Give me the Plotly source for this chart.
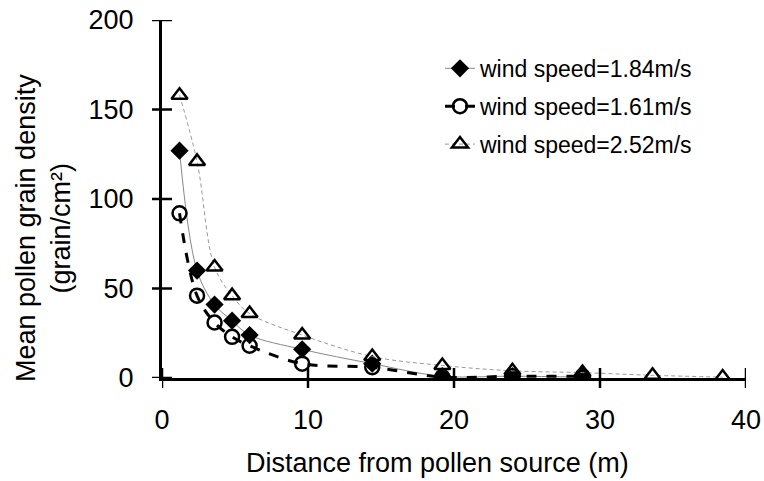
import plotly.graph_objects as go

x_d = [1.2, 2.4, 3.6, 4.8, 6.0, 9.6, 14.4, 19.2, 24.0, 28.8]
y_d = [127, 60, 41, 32, 24, 16, 8, 1, 1, 0.5]
x_c = [1.2, 2.4, 3.6, 4.8, 6.0, 9.6, 14.4, 19.2, 24.0, 28.8]
y_c = [92, 46, 31, 23, 18, 8, 6, 0.5, 1, 1]
x_t = [1.2, 2.4, 3.6, 4.8, 6.0, 9.6, 14.4, 19.2, 24.0, 28.8, 33.6, 38.4]
y_t = [158, 121, 62, 46, 36, 24, 12, 7, 4, 3, 1.5, 0.5]

names = ["wind speed=1.84m/s", "wind speed=1.61m/s", "wind speed=2.52m/s"]
x_ticks = [0, 10, 20, 30, 40]
y_ticks = [0, 50, 100, 150, 200]
x_title = "Distance from pollen source (m)"
y_title = "Mean pollen grain density<br>(grain/cm²)"

font = "Liberation Sans, Arial, sans-serif"

fig = go.Figure()
fig.add_trace(go.Scatter(
    x=x_d, y=y_d, name=names[0], mode="lines+markers", legendgroup="a",
    line=dict(color="#888888", width=1, shape="spline"),
    marker=dict(symbol="diamond", size=14, color="black", line=dict(width=0))))
fig.add_trace(go.Scatter(
    x=x_c, y=y_c, name=names[1], mode="lines+markers", legendgroup="b",
    line=dict(color="black", width=3, dash="10px,10px", shape="spline"),
    marker=dict(symbol="circle-open", size=14, color="black", line=dict(width=2.5))))
fig.add_trace(go.Scatter(
    x=x_t, y=y_t, name=names[2], mode="lines+markers", legendgroup="c",
    line=dict(color="#999999", width=1, dash="4px,3px", shape="spline"),
    marker=dict(symbol="triangle-up-open", size=14, color="black", line=dict(width=2.5))))

axis_common = dict(showgrid=False, zeroline=False, showline=True, linecolor="black",
                   linewidth=3, ticks="",
                   tickfont=dict(family=font, size=27, color="black"))

# tick marks crossing the axes, positioned by the axes' own scales
shapes = []
for t in x_ticks:
    shapes.append(dict(type="line", xref="x", x0=t, x1=t, yref="paper", ysizemode="pixel",
                       yanchor=0, y0=-10, y1=10, line=dict(color="black", width=2.5)))
for t in y_ticks:
    shapes.append(dict(type="line", yref="y", y0=t, y1=t, xref="paper", xsizemode="pixel",
                       xanchor=0, x0=-10, x1=10, line=dict(color="black", width=2.5)))

fig.update_layout(
    template="none",
    width=764, height=481,
    margin=dict(l=162, r=18, t=20, b=103),
    plot_bgcolor="white", paper_bgcolor="white",
    font=dict(family=font, color="black"),
    xaxis=dict(range=[0, 40], tickvals=x_ticks, ticklabelstandoff=16, **axis_common),
    yaxis=dict(range=[0, 200], tickvals=y_ticks, ticklabelstandoff=20, **axis_common),
    legend=dict(x=0.476, y=0.925, xanchor="left", yanchor="top", bgcolor="rgba(0,0,0,0)",
                font=dict(family=font, size=23, color="black"), tracegroupgap=5),
    showlegend=True,
    shapes=shapes,
    annotations=[
        dict(text=x_title, xref="paper", yref="paper", x=0.4726, y=-0.237,
             xanchor="center", yanchor="middle", showarrow=False,
             font=dict(family=font, size=27, color="black")),
        dict(text=y_title, xref="paper", yref="paper", x=-0.202, y=0.419, textangle=-90,
             xanchor="center", yanchor="middle", showarrow=False,
             font=dict(family=font, size=27, color="black")),
    ],
)

fig.write_html("out.html", config={"displayModeBar": False},
               post_script="document.body.style.margin='0';")
